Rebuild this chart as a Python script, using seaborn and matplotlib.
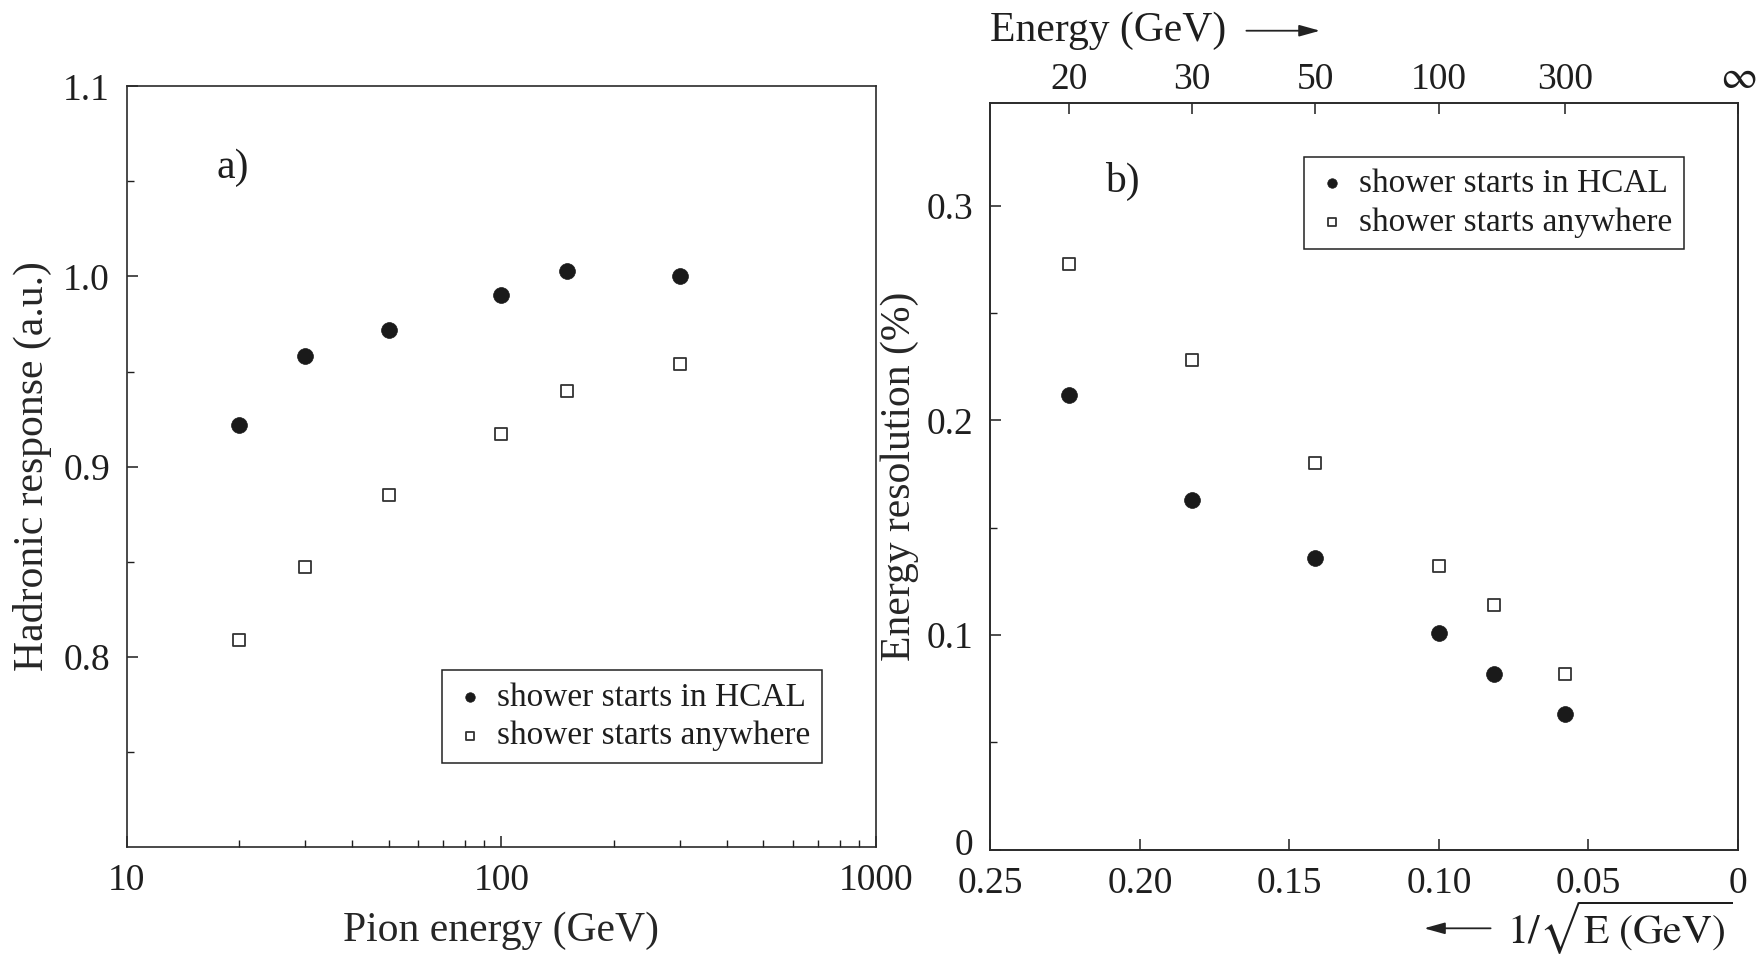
import numpy as np
import pandas as pd
import matplotlib
matplotlib.use("Agg")
import matplotlib.pyplot as plt
import matplotlib.transforms as mtransforms
import seaborn as sns

# Beam energies (GeV) and measured quantities
energies = [20, 30, 50, 100, 150, 300]
response_hcal = [0.922, 0.958, 0.972, 0.990, 1.003, 1.000]
response_any = [0.809, 0.847, 0.885, 0.917, 0.940, 0.954]
resolution_hcal = [0.212, 0.163, 0.136, 0.101, 0.082, 0.063]
resolution_any = [0.273, 0.228, 0.180, 0.132, 0.114, 0.082]

label_hcal = "shower starts in HCAL"
label_any = "shower starts anywhere"
top_tick_energies = [20, 30, 50, 100, 300]

sns.set_style("ticks")
plt.rcParams["font.family"] = ["Liberation Serif", "DejaVu Serif"]
plt.rcParams["mathtext.fontset"] = "stix"
plt.rcParams["axes.linewidth"] = 1.2
plt.rcParams["xtick.direction"] = "in"
plt.rcParams["ytick.direction"] = "in"
plt.rcParams["text.color"] = "#1e1e1e"
plt.rcParams["xtick.color"] = "#1e1e1e"
plt.rcParams["ytick.color"] = "#1e1e1e"
plt.rcParams["axes.edgecolor"] = "#2a2a2a"

inv_sqrt = 1.0 / np.sqrt(np.array(energies, dtype=float))

df_a = pd.DataFrame({
    "E": energies * 2,
    "resp": response_hcal + response_any,
    "set": [label_hcal] * 6 + [label_any] * 6,
})
df_b = pd.DataFrame({
    "x": list(inv_sqrt) * 2,
    "res": resolution_hcal + resolution_any,
    "set": [label_hcal] * 6 + [label_any] * 6,
})

fig = plt.figure(figsize=(17.59, 9.60), dpi=100)
ax1 = fig.add_axes([0.072, 0.118, 0.426, 0.792])
ax2 = fig.add_axes([0.563, 0.115, 0.425, 0.778])

tick_fs = 27
label_fs = 30
leg_fs = 24


def draw(ax, data, x, y):
    h = data[data["set"] == label_hcal]
    a = data[data["set"] == label_any]
    sns.scatterplot(data=h, x=x, y=y, ax=ax, marker="o", s=130,
                    color="#1a1a1a", edgecolor="#1a1a1a", linewidth=0.5,
                    label=label_hcal)
    sns.scatterplot(data=a, x=x, y=y, ax=ax, marker="s", s=75,
                    facecolor="white", edgecolor="#333333", linewidth=1.3,
                    label=label_any)


def style_legend(ax, **kw):
    leg = ax.legend(fontsize=leg_fs, frameon=True, fancybox=False,
                    edgecolor="#222222", framealpha=1, handletextpad=0.3,
                    borderpad=0.35, labelspacing=0.25, handlelength=1.0,
                    markerscale=0.6, **kw)
    leg.get_frame().set_linewidth(1.1)
    return leg


# Panel a: response versus pion energy
draw(ax1, df_a, "E", "resp")
ax1.set_xscale("log")
ax1.set_xlim(10, 1000)
ax1.set_ylim(0.7, 1.1)
ax1.set_yticks([0.8, 0.9, 1.0, 1.1])
ax1.set_yticklabels(["0.8", "0.9", "1.0", "1.1"])
ax1.set_yticks([0.75, 0.85, 0.95, 1.05], minor=True)
ax1.set_xticks([10, 100, 1000])
ax1.set_xticklabels(["10", "100", "1000"])
ax1.tick_params(axis="both", which="major", labelsize=tick_fs, length=8,
                width=1.1, pad=12)
ax1.tick_params(axis="both", which="minor", length=5, width=1.0)
ax1.set_xlabel("Pion energy (GeV)", fontsize=label_fs, labelpad=10)
ax1.set_ylabel("Hadronic response (a.u.)", fontsize=label_fs, labelpad=8)
ax1.text(0.12, 0.88, "a)", transform=ax1.transAxes, fontsize=label_fs)
style_legend(ax1, loc="lower right", bbox_to_anchor=(0.95, 0.088))

# Panel b: resolution versus 1/sqrt(E)
draw(ax2, df_b, "x", "res")
ax2.set_xlim(0.25, 0.0)
ax2.set_ylim(0.0, 0.348)
ax2.set_xticks([0.25, 0.20, 0.15, 0.10, 0.05, 0.0])
ax2.set_xticklabels(["0.25", "0.20", "0.15", "0.10", "0.05", "0"])
ax2.set_yticks([0.0, 0.1, 0.2, 0.3])
ax2.set_yticklabels(["0", "0.1", "0.2", "0.3"])
ax2.set_yticks([0.05, 0.15, 0.25], minor=True)
ax2.tick_params(axis="both", which="major", labelsize=tick_fs, length=8,
                width=1.1, pad=12)
ax2.tick_params(axis="y", which="minor", length=5, width=1.0)
ax2.set_xlabel("")
ax2.set_ylabel("Energy resolution (%)", fontsize=label_fs, labelpad=6)
ax2.text(0.153, 0.895, "b)", transform=ax2.transAxes, fontsize=label_fs,
         va="center")
style_legend(ax2, loc="upper right", bbox_to_anchor=(0.95, 0.95))

# Lift the "0" y label slightly so it clears the "0.25" x label below it
zero_lab = ax2.get_yticklabels()[0]
zero_lab.set_transform(zero_lab.get_transform()
                       + mtransforms.ScaledTranslation(0, 6 / 72,
                                                       fig.dpi_scale_trans))

# Top energy scale
top = ax2.twiny()
top.set_xlim(ax2.get_xlim())
top_pos = list(1.0 / np.sqrt(np.array(top_tick_energies, dtype=float))) + [0.0]
top.set_xticks(top_pos)
top.set_xticklabels([str(e) for e in top_tick_energies] + [r"$\infty$"])
top.tick_params(axis="x", labelsize=tick_fs, length=8, width=1.1, pad=4,
                direction="in")
for lab in top.get_xticklabels()[-1:]:
    lab.set_fontsize(tick_fs + 2)

fig.text(0.563, 0.968, "Energy (GeV)", fontsize=label_fs, va="center")
fig.add_artist(matplotlib.patches.FancyArrowPatch(
    (0.707, 0.968), (0.752, 0.968), transform=fig.transFigure,
    arrowstyle="-|>,head_length=0.9,head_width=0.25", color="#222222",
    linewidth=1.3, mutation_scale=14))

fig.text(0.985, 0.033, r"$1/\sqrt{\mathrm{E\ (GeV)}}$", fontsize=label_fs,
         ha="right", va="center")
fig.add_artist(matplotlib.patches.FancyArrowPatch(
    (0.849, 0.033), (0.808, 0.033), transform=fig.transFigure,
    arrowstyle="-|>,head_length=0.9,head_width=0.25", color="#222222",
    linewidth=1.3, mutation_scale=14))

fig.savefig("out.png", dpi=100)
